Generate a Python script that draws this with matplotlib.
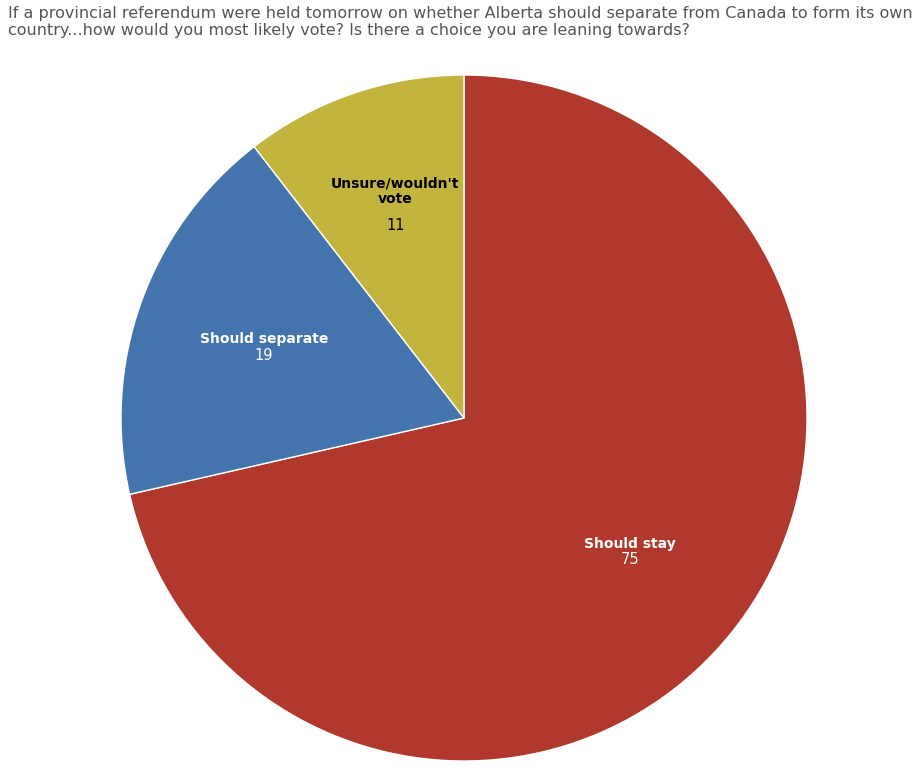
import numpy as np
import matplotlib.pyplot as plt

labels = ['Should stay', 'Should separate', "Unsure/wouldn't\nvote"]
values = [75, 19, 11]
colors = ['#B0382C', '#4474AE', '#C3B43E']
text_colors = ['white', 'white', 'black']

title = ('If a provincial referendum were held tomorrow on whether Alberta should separate from Canada to form its own\n'
         'country...how would you most likely vote? Is there a choice you are leaning towards?')

fig = plt.figure(figsize=(9.21, 7.76), dpi=100)
W, H = 921, 776
cx, cy, r = 464, 418, 343
ax = fig.add_axes([(cx - r) / W, (H - cy - r) / H, 2 * r / W, 2 * r / H])

wedges, _ = ax.pie(values, colors=colors, startangle=90, counterclock=False,
                   wedgeprops=dict(edgecolor='white', linewidth=1))
ax.set_xlim(-1, 1)
ax.set_ylim(-1, 1)
ax.set_aspect('equal')

for w, lab, v, tc in zip(wedges, labels, values, text_colors):
    mid = np.deg2rad((w.theta1 + w.theta2) / 2)
    x, y = 0.62 * np.cos(mid), 0.62 * np.sin(mid)
    nlines = lab.count('\n') + 1
    ax.text(x, y + 0.03 * (nlines - 1), lab, ha='center', va='bottom', fontsize=10,
            fontweight='bold', color=tc, linespacing=1.2)
    ax.text(x, y - 0.005, str(v), ha='center', va='top', fontsize=10.5, color=tc)

fig.text(8 / W, 1 - 6 / H, title, ha='left', va='top', fontsize=11.5, color='#555555',
         linespacing=1.15)

fig.savefig('out.png', dpi=100)
